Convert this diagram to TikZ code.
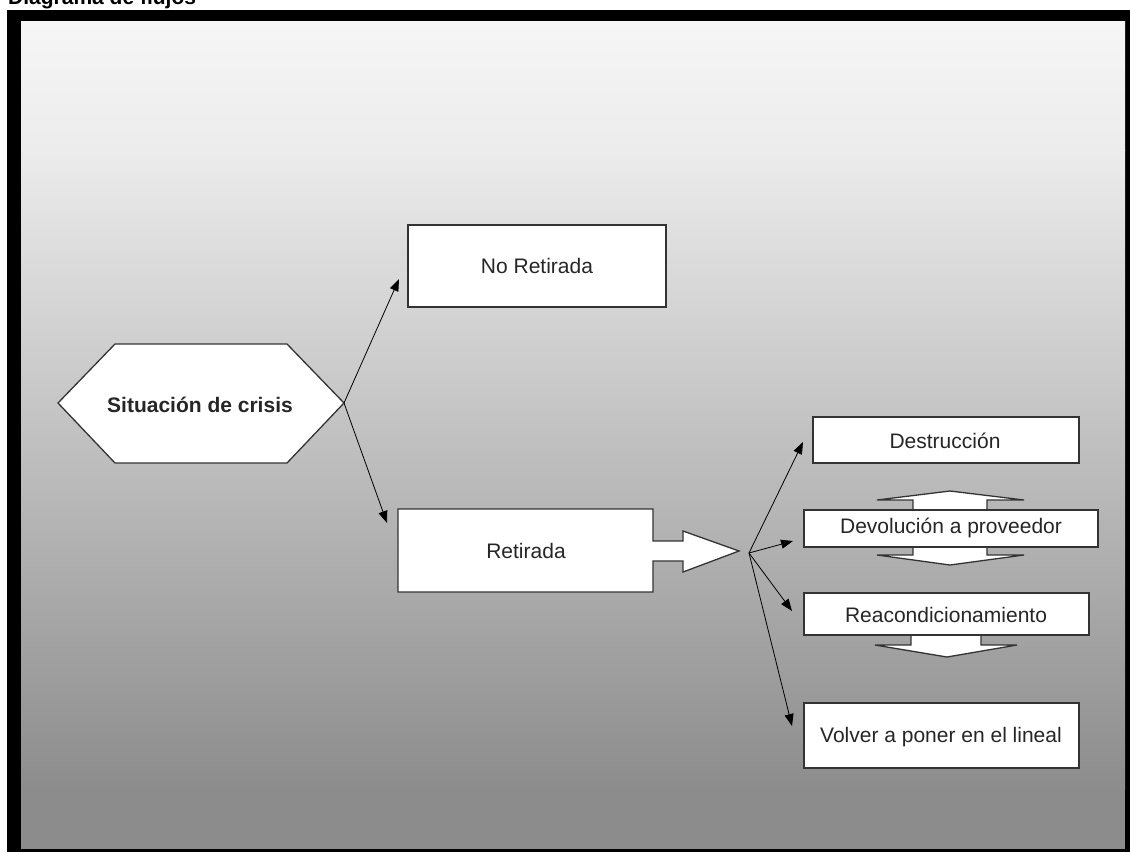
\documentclass[tikz,border=0pt]{standalone}
\usepackage{fontspec}
\setmainfont{Liberation Sans}
\usetikzlibrary{arrows.meta}
\definecolor{edgegray}{HTML}{333333}
\definecolor{bgtop}{HTML}{F6F6F6}
\definecolor{bgmid}{HTML}{ECECEC}
\definecolor{bgbot}{HTML}{8C8C8C}
\tikzset{
  boxshape/.style={fill=white, draw=edgegray, line width=1.3pt, line join=miter},
  lbl/.style={font=\fontsize{21}{25}\selectfont, inner sep=0pt, text=black!85},
  conn/.style={draw=black, line width=0.8pt, -{Triangle[length=12pt,width=9pt]}},
}
\begin{document}
\begin{tikzpicture}[x=1pt, y=-1pt]
\useasboundingbox (0,0) rectangle (1130,852);
% frame and background
\fill[white] (0,0) rectangle (1130,852);
\fill[black] (7,10) rectangle (1130,852);
\shade[top color=bgtop, bottom color=bgmid] (21,21) rectangle (1125,150);
\shade[top color=bgmid, bottom color=bgbot] (21,150) rectangle (1125,790);
\fill[bgbot] (21,790) rectangle (1125,849);
% clipped title (cut at the top edge, as in the reference)
\begin{scope}
\clip (0,0) rectangle (1130,10);
\node[anchor=base west, font=\bfseries\fontsize{21}{25}\selectfont, inner sep=0pt] (title) at (8,4) {Diagrama de flujos};
\end{scope}

% hexagon
\draw[boxshape] (58,403) -- (115,344) -- (287,344) -- (344,403) -- (287,463) -- (115,463) -- cycle;
\coordinate (hexR) at (344,403);
\node[lbl, font=\bfseries\fontsize{21}{25}\selectfont] (crisis) at (200,405) {Situación de crisis};

% No Retirada
\draw[boxshape] (408,225) rectangle (666,307);
\coordinate (noretW) at (399,279);
\node[lbl] (noret) at (537,266) {No Retirada};

% Retirada with arrow
\draw[boxshape] (398,509) -- (653,509) -- (653,541) -- (683,541) -- (683,531) -- (739,551)
  -- (683,572) -- (683,561) -- (653,561) -- (653,592) -- (398,592) -- cycle;
\coordinate (retW) at (387,523);
\node[lbl] (ret) at (526,551) {Retirada};

% fan origin
\coordinate (fan) at (749,553);

% Devolucion up/down arrow
\draw[boxshape] (913,512) -- (913,500) -- (877,500) -- (950,491) -- (1024,500) -- (987,500) -- (987,512) -- cycle;
\draw[boxshape] (913,545) -- (913,555) -- (877,555) -- (950,565) -- (1024,555) -- (987,555) -- (987,545) -- cycle;
% Reacondicionamiento down arrow
\draw[boxshape] (911,633) -- (911,645) -- (875,645) -- (947,657) -- (1017,645) -- (981,645) -- (981,633) -- cycle;

% right boxes
\draw[boxshape] (813,417) rectangle (1079,463);
\node[lbl] (destr) at (945,441) {Destrucción};
\draw[boxshape] (804,510) rectangle (1098,547);
\node[lbl] (devol) at (951,528) {Devolución a proveedor};
\draw[boxshape] (804,593) rectangle (1089,635);
\node[lbl] (reac) at (946,615) {Reacondicionamiento};
\draw[boxshape] (804,703) rectangle (1079,768);
\node[lbl] (volver) at (941,737) {Volver a poner en el lineal};

% target points for fan arrows
\coordinate (tDes) at (803,442);
\coordinate (tDev) at (793,541);
\coordinate (tRea) at (792,611);
\coordinate (tVol) at (792,726);

% connectors
\draw[conn] (hexR) -- (noretW);
\draw[conn] (hexR) -- (retW);
\draw[conn] (fan) -- (tDes);
\draw[conn] (fan) -- (tDev);
\draw[conn] (fan) -- (tRea);
\draw[conn] (fan) -- (tVol);
\end{tikzpicture}
\end{document}
